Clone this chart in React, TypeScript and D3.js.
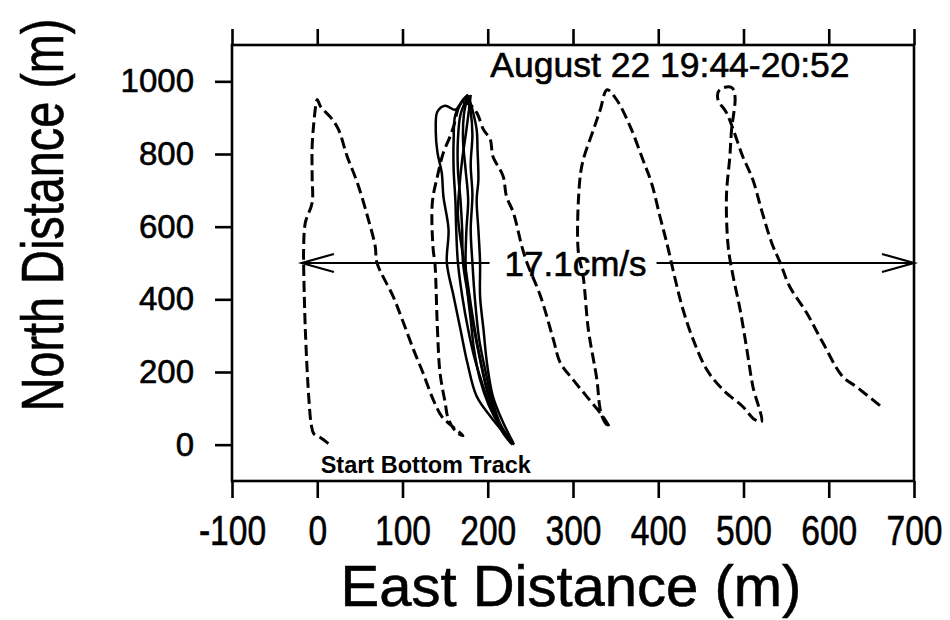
import React, { useEffect, useRef } from 'react'
import * as d3 from 'd3'

// axis ticks (m)
const xTicks = [-100, 0, 100, 200, 300, 400, 500, 600, 700]
const yTicks = [0, 200, 400, 600, 800, 1000]

// ship track (dashed), [east, north] in m
const shipTrack: [number, number][] = [
    [13, 3], [4, 19], [-4, 30], [-7, 55], [-10, 132], [-14, 317], [-16, 501], [-16, 537],
    [-14, 611], [-6, 666], [-6, 738], [-6, 820], [-4, 886], [-1, 944], [0, 950], [4, 930],
    [16, 900], [25, 867], [35, 794], [47, 721], [59, 628], [68, 546], [70, 501], [89, 408],
    [101, 336], [113, 261], [124, 198], [136, 124], [146, 78], [156, 55], [171, 25], [164, 33],
    [154, 69], [150, 116], [144, 198], [141, 317], [138, 501], [136, 537], [135, 666], [141, 739],
    [148, 804], [156, 849], [160, 876], [168, 936], [177, 939], [187, 914], [195, 867], [203, 840],
    [206, 794], [218, 739], [222, 683], [230, 639], [240, 546], [246, 501], [262, 408], [277, 289],
    [285, 226], [300, 179], [316, 133], [335, 78], [343, 47], [337, 63], [332, 96], [328, 179],
    [318, 317], [312, 462], [306, 537], [308, 729], [312, 784], [324, 867], [332, 922], [340, 977],
    [351, 950], [367, 876], [382, 784], [392, 721], [402, 628], [411, 546], [420, 454], [429, 372],
    [441, 289], [457, 206], [476, 151], [499, 105], [513, 69], [521, 63], [511, 160], [504, 261],
    [496, 372], [487, 473], [482, 546], [480, 683], [484, 794], [486, 867], [490, 959], [486, 983],
    [472, 977], [470, 950], [480, 914], [488, 867], [499, 794], [511, 729], [521, 647], [533, 556],
    [543, 501], [554, 436], [574, 363], [593, 281], [616, 188], [632, 160], [663, 102]
]

// bottom track runs (solid)
const run1: [number, number][] = [[229, 3], [222, 23], [203, 78], [187, 133], [176, 226], [168, 317], [160, 408], [152, 501], [154, 592], [148, 683], [146, 749], [141, 804], [139, 867], [141, 917], [150, 933], [162, 922], [171, 950], [177, 963]]
const run2: [number, number][] = [[230, 3], [218, 41], [205, 96], [194, 165], [185, 234], [177, 317], [170, 410], [165, 501], [163, 592], [162, 674], [160, 757], [160, 839], [162, 908], [170, 944], [177, 963]]
const run3: [number, number][] = [[231, 0], [220, 33], [209, 83], [199, 151], [191, 234], [184, 317], [177, 410], [171, 501], [170, 592], [168, 674], [165, 757], [165, 839], [168, 908], [175, 950]]
const run4: [number, number][] = [[227, 5], [215, 47], [201, 110], [191, 179], [184, 261], [180, 344], [176, 427], [174, 501], [175, 592], [177, 674], [174, 757], [171, 839], [172, 908], [176, 955]]
const run5: [number, number][] = [[230, 5], [218, 61], [206, 133], [199, 226], [195, 317], [191, 408], [191, 501], [189, 592], [187, 674], [189, 729], [188, 812], [187, 867], [182, 922], [177, 961]]
const run6: [number, number][] = [[226, 11], [215, 55], [205, 124], [197, 206], [190, 289], [185, 399], [182, 501], [180, 592], [182, 688], [180, 771], [182, 853], [180, 917], [176, 958]]
const run7: [number, number][] = [[229, 0], [217, 36], [208, 91], [198, 165], [189, 261], [181, 372], [175, 468], [169, 550], [165, 633], [167, 716], [170, 784], [175, 867], [178, 922], [180, 963]]
const bottomRuns = [run1, run2, run3, run4, run5, run6, run7]

// annotations
const titleText = 'August 22 19:44-20:52'
const titleAt: [number, number] = [203, 1013]
const speedText = '17.1cm/s'
const arrowFrom = -18
const arrowTo = 700
const arrowNorth = 500
const speedAt = 303
const startText = 'Start Bottom Track'
const startAt: [number, number] = [4, -77]

const W = 950
const H = 620
const left = 232, right = 914, top = 45, bottom = 481
const font = '"Liberation Sans", Arial, Helvetica, sans-serif'
const ink = 0.6 // extra text weight, the scan is heavy

const x = d3.scaleLinear().domain([-100, 700]).range([left, right])
const y = d3.scaleLinear().domain([-100, 1100]).range([bottom, top])

export default function App() {
    const axRef = useRef<SVGGElement>(null)

    useEffect(() => {
        const g = d3.select(axRef.current)
        g.selectAll('*').remove()

        const bottomAxis = g.append('g').attr('transform', `translate(0,${bottom})`)
            .call(d3.axisBottom(x).tickValues(xTicks).tickSize(17).tickPadding(17).tickSizeOuter(0).tickFormat(d => String(d)))
        bottomAxis.selectAll('text')
            .attr('font-size', 42)
            .attr('transform', 'scale(0.8,1)')

        const topAxis = g.append('g').attr('transform', `translate(0,${top})`)
            .call(d3.axisTop(x).tickValues(xTicks).tickSize(16).tickSizeOuter(0).tickFormat(() => ''))

        const leftAxis = g.append('g').attr('transform', `translate(${left},0)`)
            .call(d3.axisLeft(y).tickValues(yTicks).tickSize(17).tickPadding(21).tickSizeOuter(0).tickFormat(d => String(d)))
        leftAxis.selectAll('text').attr('font-size', 33)

        for (const a of [bottomAxis, topAxis, leftAxis]) {
            a.select('.domain').remove()
            a.selectAll('line').attr('stroke', '#000').attr('stroke-width', 2.6)
            a.selectAll('text')
                .attr('fill', '#000')
                .attr('stroke', '#000')
                .attr('stroke-width', ink)
                .attr('font-family', font)
        }
    }, [])

    const line = d3.line<[number, number]>()
        .x(d => x(d[0]))
        .y(d => y(d[1]))
        .curve(d3.curveCatmullRom.alpha(0.5))

    const ay = y(arrowNorth)
    const sx = x(speedAt)
    const head = (tip: number, dir: number) =>
        `${tip + dir * 32},${ay - 9} ${tip},${ay} ${tip + dir * 32},${ay + 9}`

    return (
        <svg width={W} height={H} style={{ position: 'absolute', left: 0, top: 0, background: '#fff' }}>
            <rect x={0} y={0} width={W} height={H} fill="#fff" />

            {bottomRuns.map((r, i) => (
                <path key={i} d={line(r) || ''} fill="none" stroke="#000" strokeWidth={2.5} strokeLinejoin="round" />
            ))}
            <path d={line(shipTrack) || ''} fill="none" stroke="#000" strokeWidth={3} strokeDasharray="11,5" />

            <line x1={x(arrowFrom)} x2={sx - 86} y1={ay} y2={ay} stroke="#000" strokeWidth={2.2} />
            <line x1={sx + 81} x2={x(arrowTo)} y1={ay} y2={ay} stroke="#000" strokeWidth={2.2} />
            <polyline points={head(x(arrowFrom), 1)} fill="none" stroke="#000" strokeWidth={2.2} />
            <polyline points={head(x(arrowTo), -1)} fill="none" stroke="#000" strokeWidth={2.2} />

            <g fill="#000" stroke="#000" strokeWidth={ink} fontFamily={font}>
                <text x={sx} y={ay + 12.5} textAnchor="middle" fontSize={35}>{speedText}</text>
                <text x={x(titleAt[0])} y={y(titleAt[1])} fontSize={35.5}>{titleText}</text>
                <text x={x(startAt[0])} y={y(startAt[1])} fontSize={23.5} fontWeight="bold" strokeWidth={0}>{startText}</text>
                <text x={571} y={606} textAnchor="middle" fontSize={58}>East Distance (m)</text>
                <text transform="translate(63,215) rotate(-90) scale(0.78,1)" textAnchor="middle" fontSize={60}>North Distance (m)</text>
            </g>

            <rect x={left} y={top} width={right - left} height={bottom - top} fill="none" stroke="#000" strokeWidth={2.6} />
            <g ref={axRef} />
        </svg>
    )
}
